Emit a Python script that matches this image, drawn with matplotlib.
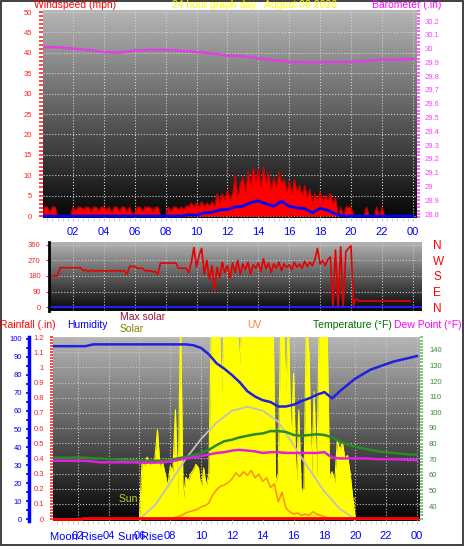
import matplotlib
matplotlib.use("Agg")
import matplotlib.pyplot as plt
import numpy as np
from matplotlib.colors import LinearSegmentedColormap
from matplotlib.ticker import MultipleLocator
from matplotlib.patches import Rectangle

plt.rcParams['font.family'] = ['Liberation Sans', 'DejaVu Sans']

W, H = 466, 550

# ---------------- data ----------------
# 10 minute samples, 00:00 .. 23:50
t10 = np.arange(144) / 6.0
gust = [0, 2.2, 2.2, 0.8, 2.2, 2.2,
        0, 0, 0, 0, 0, 0,
        2.2, 1.2, 2.2, 2.2, 1.5, 2.2,
        2.2, 1.0, 2.2, 2.2, 1.2, 2.2,
        2.2, 1.5, 2.2, 0.8, 2.2, 2.2,
        1.2, 2.2, 2.2, 1.0, 2.2, 0.5,
        0.8, 2.2, 2.2, 1.2, 2.2, 2.2,
        2.2, 1.0, 2.2, 2.2, 0, 0,
        0, 2.2, 1.2, 2.2, 2.2, 1.5,
        2.2, 1.5, 2.5, 2.2, 3.2, 2.2,
        3.2, 2.2, 3.5, 2.2, 3.2, 2.5,
        3.5, 2.5, 5.5, 3.2, 5.5, 4.0,
        6.5, 4.0, 5.5, 10.2, 4.5, 8.0,
        9.5, 6.0, 11.0, 7.5, 12.0, 8.5,
        11.5, 7.0, 12.2, 8.0, 10.5, 6.5,
        9.5, 7.0, 10.8, 8.0, 9.0, 6.0,
        8.5, 5.5, 9.0, 6.0, 7.5, 5.0,
        7.5, 4.5, 6.5, 3.5, 5.5, 4.0,
        6.0, 3.5, 5.0, 4.0, 5.5, 3.0,
        4.5, 0, 2.2, 0, 2.2, 2.2,
        2.2, 0, 0, 0, 0, 0,
        2.2, 0, 0, 0, 2.2, 0,
        2.2, 0, 0, 0, 0, 0,
        0, 0, 0, 0, 0, 0]

wind_dir = [180, 180, 180, 180, 180, 180,
            180, 228, 228, 228, 228, 228,
            228, 228, 228, 228, 210, 215,
            205, 212, 210, 208, 212, 210,
            210, 210, 210, 210, 210, 210,
            210, 210, 210, 190, 235, 235,
            235, 225, 225, 225, 210, 210,
            210, 205, 205, 190, 255, 255,
            255, 255, 255, 255, 255, 225,
            225, 225, 225, 200, 260, 345,
            230, 300, 340, 190, 270, 160,
            240, 95, 230, 170, 260, 200,
            240, 165, 255, 200, 270, 190,
            250, 215, 260, 190, 245, 225,
            255, 205, 280, 220, 255, 200,
            250, 225, 260, 210, 250, 230,
            245, 215, 260, 230, 250, 225,
            265, 235, 260, 240, 275, 340,
            250, 270, 240, 275, 290, 5,
            330, 0, 350, 5, 320, 340,
            355, 10, 50, 35, 35, 35,
            35, 35, 35, 35, 35, 35,
            35, 35, 35, 35, 35, 35,
            35, 35, 35, 35, 35, 35]

# half-hour samples, 00:00 .. 24:00
t30 = np.arange(49) / 2.0
wind_avg = [0] * 18 + [0, 0.3, 0.2, 0.8, 0.9, 1.5, 1.6, 2.2, 2.4, 3.3, 3.7,
                       3.0, 2.4, 3.6, 2.4, 2.0, 1.8, 0.8, 1.9, 1.4, 0.5, 0] + [0] * 9
humidity = [96, 96, 96, 96, 96, 96,
            97, 97, 97, 97, 97, 97, 97, 97, 97, 97, 97, 97, 97,
            96.5, 95, 91.5, 86.5, 83.5, 80, 76, 71, 68, 66, 65, 62.5, 62.5,
            63.5, 65.5, 67, 69, 70.5, 67, 71, 74.5, 78, 80.5, 83, 84.5, 86,
            87.5, 88.5, 89.5, 90.5]
temperature = [71, 71, 71, 71, 71, 71, 70.5, 70.5, 70, 70, 69.5, 69.5,
               69, 69, 69, 69, 69.5, 70.5, 71.5, 72.5, 74, 76, 79, 81.5,
               82.5, 84, 85, 86, 86.5, 88, 88, 87.5, 85.5, 85, 85.5, 86,
               85.5, 84, 81.5, 79.5, 78, 77, 76, 75, 74.5, 74, 73.5, 73, 73]
dewpoint = [69, 69, 69, 69, 69, 69, 68.5, 68, 68, 68, 68, 68,
            67.8, 67.8, 67.8, 68, 68.5, 69.5, 70.5, 71, 72, 73, 74, 74.5,
            75.5, 76, 75.5, 75, 74, 74.5, 74.5, 74, 74, 74, 74, 74,
            74.5, 71, 70.5, 70.5, 70.5, 70.5, 70.3, 70, 70, 70, 69.8, 69.5, 69.5]

# hourly samples, 00:00 .. 24:00
t60 = np.arange(25)
barometer = [30.01, 30.01, 30.00, 29.99, 29.975, 29.97, 29.985, 29.99, 29.99,
             29.985, 29.975, 29.965, 29.95, 29.945, 29.93, 29.915, 29.905, 29.9,
             29.9, 29.905, 29.905, 29.91, 29.92, 29.92, 29.925]

# solar, 10 minute samples 06:00 .. 20:00
solar_day = [0, 320, 290, 340, 300, 310,
             330, 490, 280, 310, 250, 175,
             290, 260, 600, 120, 1100, 100,
             230, 210, 250, 270, 300, 280,
             160, 280, 180, 250, 1100, 1100,
             1100, 1100, 700, 1100, 1100, 1100,
             1100, 1100, 1100, 850, 1100, 1100,
             1100, 1100, 1100, 1100, 1100, 1100,
             1100, 1100, 1100, 1100, 1100, 200,
             250, 1100, 1100, 700, 1100, 400,
             800, 150, 600, 150, 170, 1100,
             900, 250, 700, 230, 1100, 1100,
             1100, 1100, 230, 260, 200, 430,
             380, 420, 330, 350, 250, 120,
             0]
max_solar_hours = np.arange(6, 21)
max_solar = [0, 75, 200, 330, 440, 530, 595, 617, 595, 535, 405, 275, 150, 55, 0]

# UV index, 15 minute samples 08:00 .. 19:00
uv_day = [0, 0.1, 0.2, 0.3, 0.5, 0.6, 0.7, 0.8, 1.0, 1.1, 1.3, 2.0,
          2.4, 2.7, 2.8, 3.0, 3.3, 3.8, 3.5, 3.9, 3.6, 4.0, 3.4, 3.7,
          3.1, 3.4, 2.6, 2.9, 1.4, 2.2, 0.9, 0.6, 0.4, 0.5, 0.3, 0.4,
          0.3, 0.6, 0.4, 0.3, 0.2, 0.1, 0.1, 0, 0]

rain_hours = [0, 2.3, 24]
rain = [0.0, 0.01, 0.01]

moonrise = 1.9
sunrise = 6.05
sunset = 19.95

hour_ticks = list(range(2, 25, 2))
hour_labels = ['%02d' % (h % 24) for h in hour_ticks]

# full-day arrays for solar and UV
t10_full = np.arange(145) / 6.0
solar_full = np.zeros(145)
solar_full[36:121] = solar_day
t15_full = np.arange(97) / 4.0
uv_full = np.zeros(97)
uv_full[32:77] = uv_day

# ---------------- figure ----------------
fig = plt.figure(figsize=(W / 100, H / 100), dpi=100)
fig.patch.set_facecolor('white')

shade = LinearSegmentedColormap.from_list('shade', ['#050505', '#b6b6b6'])


def rect(left, top, right, bottom):
    return [left / W, 1 - bottom / H, (right - left) / W, (bottom - top) / H]


def backdrop(r):
    bg = fig.add_axes(r)
    bg.imshow(np.linspace(1, 0, 256)[:, None], cmap=shade, aspect='auto',
              extent=[0, 1, 0, 1], interpolation='bilinear')
    bg.set_axis_off()
    return bg


def clean(ax):
    for s in ax.spines.values():
        s.set_visible(False)
    ax.patch.set_visible(False)


# ---- panel 1 : wind speed + barometer
r1 = rect(43, 10, 417, 218)
backdrop(r1)
ax1 = fig.add_axes(r1)
clean(ax1)
ax1.fill_between(t10, gust, 0, color='#ff0000', lw=0, zorder=2)
ax1.plot(t10, gust, color='#d00000', lw=0.8, zorder=2)
ax1.plot(t30, wind_avg, color='#0000ff', lw=2, zorder=3)
ax1.set_xlim(0.06, 24.27)
ax1.set_ylim(-0.49, 50.5)
ax1.set_yticks(range(0, 51, 5))
ax1.yaxis.set_minor_locator(MultipleLocator(1))
ax1.tick_params(axis='y', which='both', colors='#ff2020', labelsize=5.5,
                length=3, width=1.2, pad=5)
ax1.set_xticks(hour_ticks)
ax1.set_xticklabels(hour_labels)
ax1.xaxis.set_minor_locator(MultipleLocator(1 / 3))
ax1.tick_params(axis='x', which='both', colors='#c8c8c8', labelcolor='#0000ff',
                labelsize=8, length=2.5, pad=4)
ax1.grid(True, which='major', color='#d0d0d0', ls=':', lw=0.8)

ax1b = ax1.twinx()
clean(ax1b)
ax1b.plot(t60, barometer, color='#e040e0', lw=1.8)
ax1b.set_ylim(28.771, 30.28)
baro_ticks = np.round(np.arange(28.8, 30.21, 0.1), 1)
ax1b.set_yticks(baro_ticks)
ax1b.set_yticklabels(['%g' % v for v in baro_ticks])
ax1b.yaxis.set_minor_locator(MultipleLocator(0.025))
ax1b.tick_params(axis='y', which='both', colors='#ff40ff', labelsize=5.5,
                 length=2.5, width=1.2, pad=3)

fig.text(34 / W, 1 - 5 / H, 'Windspeed (mph)', color='#ff0000', fontsize=7.5, va='center')
fig.text(172 / W, 1 - 5 / H, '24 hour graph day : August 08 2026', color='#ffff00',
         fontsize=7.5, va='center')
fig.text(372 / W, 1 - 5 / H, 'Barometer (.in)', color='#ff00ff', fontsize=7.5, va='center')

# ---- panel 2 : wind direction
r2 = rect(49, 242, 422, 311)
backdrop(r2)
ax2 = fig.add_axes(r2)
clean(ax2)
ax2.spines['left'].set_visible(True)
ax2.spines['left'].set_color('black')
ax2.spines['left'].set_linewidth(2)
ax2.plot(t10, wind_dir, color='#e80000', lw=1.2)
ax2.axhline(0, color='#2020ff', lw=1.5)
ax2.set_xlim(0.45, 24.6)
ax2.set_ylim(-23, 377)
ax2.set_yticks([0, 90, 180, 270, 360])
ax2.tick_params(axis='y', colors='#ff2020', labelsize=5.5, length=2, pad=4)
ax2.set_xticks(hour_ticks)
ax2.tick_params(axis='x', length=0, labelbottom=False)
ax2.grid(True, which='major', color='#c8c8c8', ls=':', lw=0.8)

ax2b = ax2.twinx()
clean(ax2b)
ax2b.set_ylim(-23, 377)
ax2b.set_yticks([0, 90, 180, 270, 360])
ax2b.set_yticklabels(['N', 'E', 'S', 'W', 'N'])
ax2b.tick_params(axis='y', colors='#ff0000', labelsize=8.5, length=0, pad=8)

# ---- panel 3 : rain, humidity, solar, UV, temperature
r3 = rect(53, 337, 420, 521)
backdrop(r3)
ax3 = fig.add_axes(r3)
clean(ax3)
ax3.set_xlim(0.39, 24.2)
ax3.set_ylim(-0.013, 1.2)
rain_ticks = np.round(np.arange(0, 1.21, 0.1), 1)
ax3.set_yticks(rain_ticks)
ax3.set_yticklabels(['%g' % v for v in rain_ticks])
ax3.yaxis.set_minor_locator(MultipleLocator(0.02))
ax3.tick_params(axis='y', which='both', colors='#ff2020', labelsize=5.5,
                length=2.5, width=1.2, pad=4)
ax3.set_xticks(hour_ticks)
ax3.set_xticklabels(hour_labels)
ax3.xaxis.set_minor_locator(MultipleLocator(1 / 3))
ax3.tick_params(axis='x', which='both', colors='#c8c8c8', labelcolor='#0000ff',
                labelsize=8, length=2.5, pad=4.5)
ax3.grid(True, which='major', color='#c8c8c8', ls=':', lw=0.8)
ax3.text(sunrise, 0.135, 'Sun Rise', ha='center', va='center', color='#c8c830', fontsize=7.5)
ax3.axvline(sunrise, ymax=0.13, color='#e8e800', ls=':', lw=1)
ax3.axvline(sunset, ymax=0.13, color='#e8e800', ls=':', lw=1)
xlab = ax3.get_xaxis_transform()
ax3.text(moonrise, -0.087, 'Moon Rise', transform=xlab, ha='center', va='center',
         color='#0000ff', fontsize=8)
ax3.text(sunrise, -0.087, 'Sun Rise', transform=xlab, ha='center', va='center',
         color='#0000ff', fontsize=8)

ax3s = ax3.twinx()
clean(ax3s)
ax3s.fill_between(t10_full, solar_full, 0, color='#ffff00', lw=0)
ax3s.plot(t10_full, solar_full, color='#ffff00', lw=0.8)
ax3s.plot(max_solar_hours, max_solar, color='#c0c0c0', lw=1.3)
ax3s.set_ylim(-11, 1000)
ax3s.set_yticks([])

ax3u = ax3.twinx()
clean(ax3u)
ax3u.plot(t15_full, uv_full, color='#ff8c1a', lw=1.1)
ax3u.set_ylim(-0.165, 15)
ax3u.set_yticks([])

ax3t = ax3.twinx()
clean(ax3t)
ax3t.plot(t30, temperature, color='#2a8a2a', lw=1.8)
ax3t.plot(t30, dewpoint, color='#e020e0', lw=1.8)
ax3t.set_ylim(30.4, 148.3)
ax3t.set_yticks(range(40, 141, 10))
ax3t.yaxis.set_minor_locator(MultipleLocator(2))
ax3t.tick_params(axis='y', which='both', colors='#60c060', labelcolor='#3a8a3a',
                 labelsize=5.5, length=2.5, width=1.2, pad=4)

ax3h = ax3.twinx()
clean(ax3h)
ax3h.plot(t30, humidity, color='#2020e0', lw=1.8)
ax3h.set_ylim(-1.1, 101.1)
ax3h.yaxis.tick_left()
ax3h.spines['left'].set_visible(True)
ax3h.spines['left'].set_position(('axes', -0.0654))
ax3h.spines['left'].set_color('#0000ff')
ax3h.spines['left'].set_linewidth(2.5)
ax3h.set_yticks(range(0, 101, 10))
ax3h.yaxis.set_minor_locator(MultipleLocator(5))
ax3h.tick_params(axis='y', which='both', colors='#0000ff', labelsize=5.5,
                 length=2.2, width=1.2, pad=3)

ax3r = ax3.twinx()
clean(ax3r)
ax3r.plot(rain_hours, rain, color='#ff0000', lw=2, drawstyle='steps-post')
ax3r.set_ylim(-0.013, 1.2)
ax3r.set_yticks([])

fig.text(0 / W, 1 - 325 / H, 'Rainfall (.in)', color='#ff0000', fontsize=7.5, va='center')
fig.text(67 / W, 1 - 325 / H, 'Humidity', color='#0000ff', fontsize=7.5, va='center')
fig.text(120 / W, 1 - 317 / H, 'Max solar', color='#99103a', fontsize=7.5, va='center')
fig.text(120 / W, 1 - 329.5 / H, 'Solar', color='#808000', fontsize=7.5, va='center')
fig.text(247 / W, 1 - 325 / H, 'UV', color='#ff8030', fontsize=7.5, va='center')
fig.text(313 / W, 1 - 325 / H, 'Temperature (°F)', color='#007000', fontsize=7.5, va='center')
fig.text(394 / W, 1 - 325 / H, 'Dew Point (°F)', color='#ff00ff', fontsize=7.5, va='center')

# outer frame
fig.add_artist(Rectangle((0.5 / W, 1 - 545 / H), 462 / W, 544.5 / H,
                         transform=fig.transFigure, fill=False,
                         edgecolor='#202020', lw=1.2))

fig.savefig('out.png', dpi=100, facecolor='white')
